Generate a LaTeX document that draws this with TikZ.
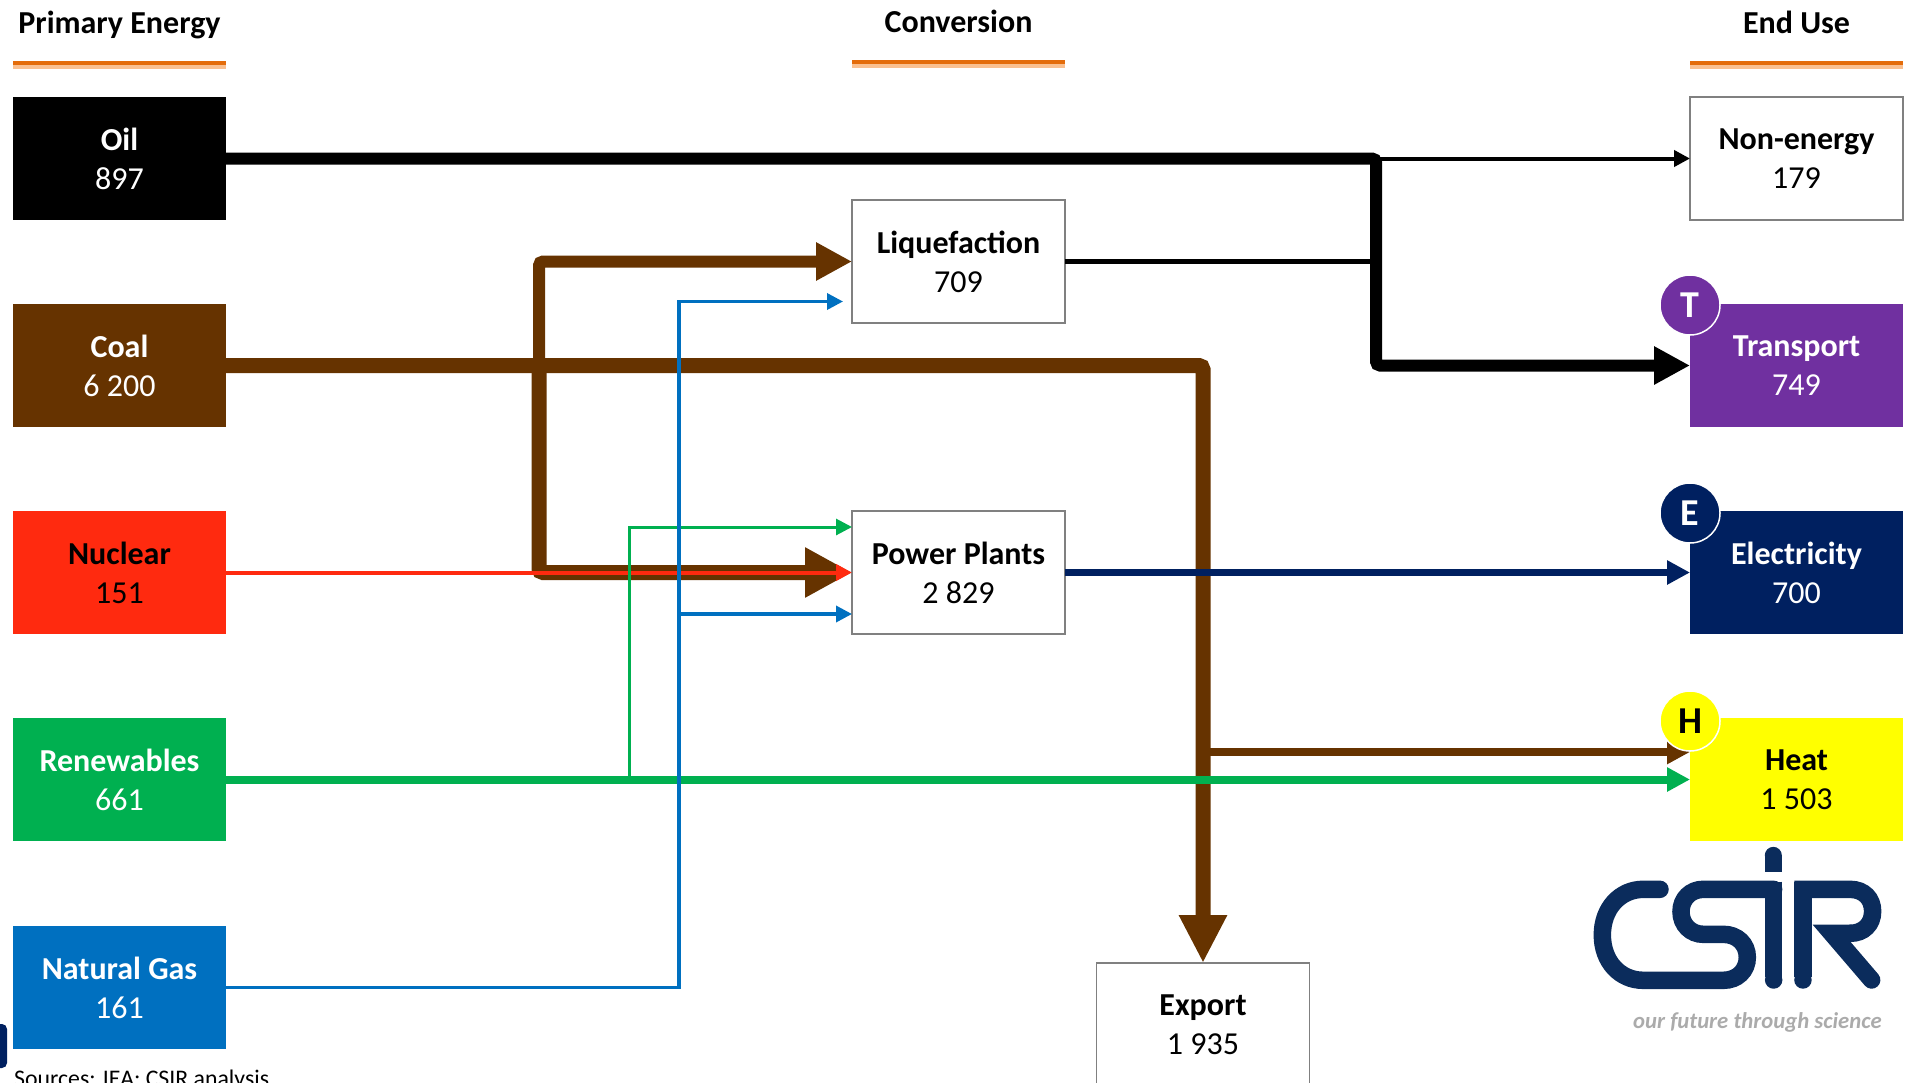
\documentclass[tikz,border=0pt]{standalone}
\usepackage{fontspec}
\setmainfont{Carlito}
\usepackage{xcolor}
\usetikzlibrary{arrows.meta,positioning}
\definecolor{coalbrown}{HTML}{663300}
\definecolor{nuclearred}{HTML}{FF2A0F}
\definecolor{renewgreen}{HTML}{00B050}
\definecolor{gasblue}{HTML}{0070C0}
\definecolor{transpurple}{HTML}{7030A0}
\definecolor{elecnavy}{HTML}{002060}
\definecolor{heatyellow}{HTML}{FFFF00}
\definecolor{logonavy}{HTML}{0B2C5C}
\definecolor{ruledark}{HTML}{E46C0A}
\definecolor{rulelight}{HTML}{FAC090}

\begin{document}
\begin{tikzpicture}[
    x=1pt, y=-1pt,
    box/.style={minimum width=213pt, minimum height=123pt, inner sep=0pt, outer sep=0pt,
                font=\fontsize{32}{39}\selectfont, align=center, fill=#1},
    plainbox/.style={box=white, draw=black!50, line width=1.5pt},
    badge/.style={circle, minimum size=60pt, inner sep=0pt, draw=white, line width=1.5pt,
                  font=\fontsize{38}{38}\selectfont\bfseries, fill=#1},
    heading/.style={font=\fontsize{32}{36}\selectfont\bfseries, inner sep=0pt,
                    text height=22pt, text depth=7pt},
    rulebar/.style={minimum width=213pt, minimum height=6pt, inner sep=0pt, outer sep=0pt,
                    fill=ruledark},
    rulelow/.style={rulelight, line width=4pt, yshift=-2pt},
    arr/.style={-{Triangle[length=#1, width=#1]}},
    node distance=84pt
]
\useasboundingbox (0,0) rectangle (1906,1082);

% primary energy
\node[box=black, text=white] at (119.5,158.5) (oil) {\textbf{Oil}\\897};
\node[box=coalbrown, text=white, below=of oil] (coal) {\textbf{Coal}\\6 200};
\node[box=nuclearred, below=of coal] (nuclear) {\textbf{Nuclear}\\151};
\node[box=renewgreen, text=white, below=of nuclear] (renew) {\textbf{Renewables}\\661};
\node[box=gasblue, text=white, below=85pt of renew] (gas) {\textbf{Natural Gas}\\161};

% conversion
\node[plainbox, right=626pt of nuclear] (power) {\textbf{Power Plants}\\2 829};
\node[plainbox, above=188pt of power] (liq) {\textbf{Liquefaction}\\709};
\node[plainbox] at (1203,1024.5) (export) {\textbf{Export}\\1 935};

% end use
\node[plainbox, right=1464pt of oil] (nonen) {\textbf{Non-energy}\\179};
\node[box=transpurple, text=white, below=of nonen] (trans) {\textbf{Transport}\\749};
\node[box=elecnavy, text=white, below=of trans] (elec) {\textbf{Electricity}\\700};
\node[box=heatyellow, below=of elec] (heat) {\textbf{Heat}\\1 503};

% headings
\node[rulebar, above=30pt of oil] (rulepe) {};
\node[rulebar, above=134pt of liq] (rulecv) {};
\node[rulebar, above=30pt of nonen] (ruleeu) {};
\draw[rulelow] (rulepe.south west) -- (rulepe.south east);
\draw[rulelow] (rulecv.south west) -- (rulecv.south east);
\draw[rulelow] (ruleeu.south west) -- (ruleeu.south east);
\node[heading, above=20pt of rulepe] (hdpe) {Primary Energy};
\node[heading, above=20pt of rulecv] (hdcv) {Conversion};
\node[heading, above=20pt of ruleeu] (hdeu) {End Use};

\coordinate (oilx) at (1376,261.5);
\coordinate (brownx) at (539,365.5);
\coordinate (grnjn) at (629,780);
\coordinate (bluejn) at (679,614);
\coordinate (coaljn) at (1203,752);

% flows
\draw[arr=36pt, coalbrown, line width=12pt, rounded corners=4pt] (brownx) |- (liq.west);
\draw[arr=47pt, coalbrown, line width=15pt, rounded corners=4pt] (brownx) |- (power.west);
\draw[-{Triangle[length=48pt, width=45pt]}, coalbrown, line width=15pt, rounded corners=4pt]
    (coal.east) -| (export.north);
\draw[arr=23pt, coalbrown, line width=8pt] (coaljn) -- ([yshift=27.5pt]heat.west);
\draw[arr=16pt, nuclearred, line width=4pt] (nuclear.east) -- (power.west);
\draw[arr=16pt, renewgreen, line width=3pt] (grnjn) |- ([yshift=45.5pt]power.west);
\draw[arr=23pt, renewgreen, line width=8pt] (renew.east) -- (heat.west);
\draw[arr=16pt, gasblue, line width=3.5pt]
    (gas.east) -| (bluejn) |- ([xshift=-9pt,yshift=-40pt]liq.west);
\draw[arr=16pt, gasblue, line width=3.5pt] (bluejn) -- ([yshift=-41.5pt]power.west);
\draw[arr=23pt, elecnavy, line width=7.5pt] (power.east) -- (elec.west);
\draw[arr=16pt, line width=4pt] (oilx |- nonen.west) -- (nonen.west);
\draw[arr=36pt, line width=12pt, rounded corners=4pt] (oil.east) -| (oilx) |- (trans.west);
\draw[line width=5pt] (liq.east) -- (oilx);

% letters on the end use boxes
\node[badge=transpurple, text=white, yshift=-1pt] at (trans.north west) (bt) {T};
\node[badge=elecnavy, text=white, yshift=-2pt] at (elec.north west) (be) {E};
\node[badge=heatyellow, yshift=-3pt] at (heat.north west) (bh) {H};

% logo
\begin{scope}[shift={(1500,780)}, x=0.3333pt, y=-0.3333pt, logonavy, line width=17.5pt, line cap=round]
\draw (480,328) -- (430,328) .. controls (360,328) and (307,385) .. (307,465)
      .. controls (307,545) and (360,601) .. (430,601) -- (670,601)
      .. controls (712,601) and (742,572) .. (742,532)
      .. controls (742,492) and (712,463) .. (670,463) -- (610,463)
      .. controls (572,463) and (543,434) .. (543,395)
      .. controls (543,356) and (572,328) .. (610,328) -- (821,328);
\draw[line cap=butt] (821,305) -- (821,590);
\fill (821,600) circle (8.75pt);
\draw[line cap=butt] (820,225) -- (820,275);
\fill (820,226) circle (8.5pt);
\draw[line cap=butt] (909,305) -- (909,590);
\fill (909,600) circle (8.75pt);
\draw[line cap=butt] (883,328) -- (1050,328) .. controls (1092,328) and (1118,356) .. (1118,394)
      .. controls (1118,432) and (1092,460) .. (1050,460);
\draw (1050,460) -- (995,460) -- (1115,600);
\end{scope}
\node[anchor=base west, inner sep=0pt, text=black!33, font=\fontsize{22.7}{26}\selectfont\itshape\bfseries] at (1633,1028) (tagline) {our future through science};

% bottom left
\fill[elecnavy, rounded corners=5pt] (-10,1024) rectangle (7,1068);
\node[anchor=base west, inner sep=0pt, font=\fontsize{23.8}{28}\selectfont] at (14,1086) (sources) {Sources: IEA; CSIR analysis};
\end{tikzpicture}
\end{document}
